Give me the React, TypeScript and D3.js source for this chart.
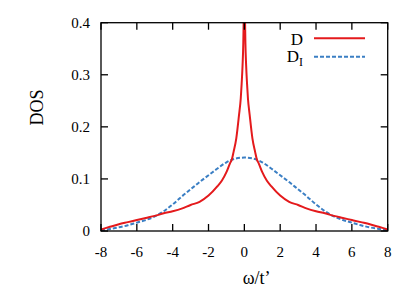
import React, { useEffect, useRef } from "react";
import * as d3 from "d3";

// frequencies (omega / t') and the two DOS curves
const omega = [
  -8, -7.5, -7, -6.5, -6, -5.5, -5, -4.5, -4, -3.5, -3, -2.5, -2, -1.5, -1.25, -1, -0.8, -0.7, -0.6,
  -0.45, -0.3, -0.2, -0.15, -0.1, -0.06, -0.04, 0, 0.04, 0.06, 0.1, 0.15, 0.2, 0.3, 0.45, 0.6, 0.7,
  0.8, 1, 1.25, 1.5, 2, 2.5, 3, 3.5, 4, 4.5, 5, 5.5, 6, 6.5, 7, 7.5, 8,
];
const dosD = [
  0.003, 0.008, 0.013, 0.017, 0.021, 0.025, 0.029, 0.034, 0.038, 0.043, 0.05, 0.056, 0.068, 0.086,
  0.097, 0.113, 0.13, 0.137, 0.152, 0.178, 0.222, 0.255, 0.283, 0.318, 0.36, 0.4, 0.45, 0.4, 0.36,
  0.318, 0.283, 0.255, 0.222, 0.178, 0.152, 0.137, 0.13, 0.113, 0.097, 0.086, 0.068, 0.056, 0.05,
  0.043, 0.038, 0.034, 0.029, 0.025, 0.021, 0.017, 0.013, 0.008, 0.003,
];
const omegaI = [-8, -7.5, -7, -6.5, -6, -5.5, -5, -4.5, -4, -3.5, -3, -2.5, -2, -1.5, -1, -0.5, 0,
  0.5, 1, 1.5, 2, 2.5, 3, 3.5, 4, 4.5, 5, 5.5, 6, 6.5, 7, 7.5, 8];
const dosDI = [
  0.001, 0.004, 0.007, 0.011, 0.016, 0.021, 0.028, 0.038, 0.051, 0.066, 0.08, 0.094, 0.107, 0.12,
  0.132, 0.139, 0.141, 0.139, 0.132, 0.12, 0.107, 0.094, 0.08, 0.066, 0.051, 0.038, 0.028, 0.021,
  0.016, 0.011, 0.007, 0.004, 0.001,
];
const xTicks = [-8, -6, -4, -2, 0, 2, 4, 6, 8];
const yTicks = [0, 0.1, 0.2, 0.3, 0.4];

const App = () => {
  const svgRef = useRef<SVGSVGElement>(null);

  useEffect(() => {
    const svg = d3.select(svgRef.current);
    svg.selectAll("*").remove();

    const left = 101, right = 387.7, top = 22.7, bottom = 231;
    const font = "'Liberation Serif', 'DejaVu Serif', serif";

    const x = d3.scaleLinear().domain([-8, 8]).range([left, right]);
    const y = d3.scaleLinear().domain([0, 0.4]).range([bottom, top]);

    svg.append("defs").append("clipPath").attr("id", "plotclip")
      .append("rect")
      .attr("x", left).attr("y", top)
      .attr("width", right - left).attr("height", bottom - top);

    const line = d3.line<[number, number]>()
      .x(d => x(d[0]))
      .y(d => y(d[1]))
      .curve(d3.curveMonotoneX);

    const plot = svg.append("g").attr("clip-path", "url(#plotclip)");

    plot.append("path")
      .datum(omegaI.map((w, i) => [w, dosDI[i]] as [number, number]))
      .attr("d", line)
      .attr("fill", "none")
      .attr("stroke", "#3b7fc4")
      .attr("stroke-width", 2)
      .attr("stroke-dasharray", "4,2");

    plot.append("path")
      .datum(omega.map((w, i) => [w, dosD[i]] as [number, number]))
      .attr("d", line)
      .attr("fill", "none")
      .attr("stroke", "#e41a1c")
      .attr("stroke-width", 2);

    // axes: ticks inside, mirrored on top / right
    const ax = svg.append("g").attr("stroke", "#000").attr("stroke-width", 1.3);
    ax.append("rect")
      .attr("x", left).attr("y", top)
      .attr("width", right - left).attr("height", bottom - top)
      .attr("fill", "none");
    xTicks.forEach(t => {
      ax.append("line").attr("x1", x(t)).attr("x2", x(t)).attr("y1", bottom).attr("y2", bottom - 7);
      ax.append("line").attr("x1", x(t)).attr("x2", x(t)).attr("y1", top).attr("y2", top + 7);
    });
    yTicks.forEach(t => {
      ax.append("line").attr("x1", left).attr("x2", left + 7).attr("y1", y(t)).attr("y2", y(t));
      ax.append("line").attr("x1", right).attr("x2", right - 7).attr("y1", y(t)).attr("y2", y(t));
    });

    const txt = svg.append("g").style("font-family", font).attr("fill", "#000");

    txt.selectAll(".xlab").data(xTicks).enter().append("text")
      .attr("x", d => x(d))
      .attr("y", 257)
      .attr("text-anchor", "middle")
      .attr("font-size", 15)
      .text(d => String(d));

    txt.selectAll(".ylab").data(yTicks).enter().append("text")
      .attr("x", 90)
      .attr("y", d => y(d) + 5)
      .attr("text-anchor", "end")
      .attr("font-size", 15)
      .text(d => String(d));

    txt.append("text")
      .attr("transform", "translate(43,107.5) rotate(-90)")
      .attr("text-anchor", "middle")
      .attr("font-size", 18)
      .text("DOS");

    txt.append("text")
      .attr("x", 256.7)
      .attr("y", 284)
      .attr("text-anchor", "middle")
      .attr("font-size", 18)
      .text("ω/t’");

    // legend
    txt.append("text")
      .attr("x", 303).attr("y", 45)
      .attr("text-anchor", "end")
      .attr("font-size", 17)
      .text("D");
    svg.append("line")
      .attr("x1", 314).attr("x2", 365).attr("y1", 38.3).attr("y2", 38.3)
      .attr("stroke", "#e41a1c").attr("stroke-width", 2);

    const lg = txt.append("text")
      .attr("x", 303).attr("y", 61.7)
      .attr("text-anchor", "end")
      .attr("font-size", 17);
    lg.append("tspan").text("D");
    lg.append("tspan").attr("dy", 4).attr("font-size", 12).text("I");
    svg.append("line")
      .attr("x1", 314).attr("x2", 365).attr("y1", 56.7).attr("y2", 56.7)
      .attr("stroke", "#3b7fc4").attr("stroke-width", 2)
      .attr("stroke-dasharray", "4,2");
  }, []);

  return (
    <div>
      <svg
        ref={svgRef}
        width={415}
        height={291}
        style={{ position: "absolute", left: 0, top: 0, background: "#fff" }}
      ></svg>
    </div>
  );
};

export default App;
